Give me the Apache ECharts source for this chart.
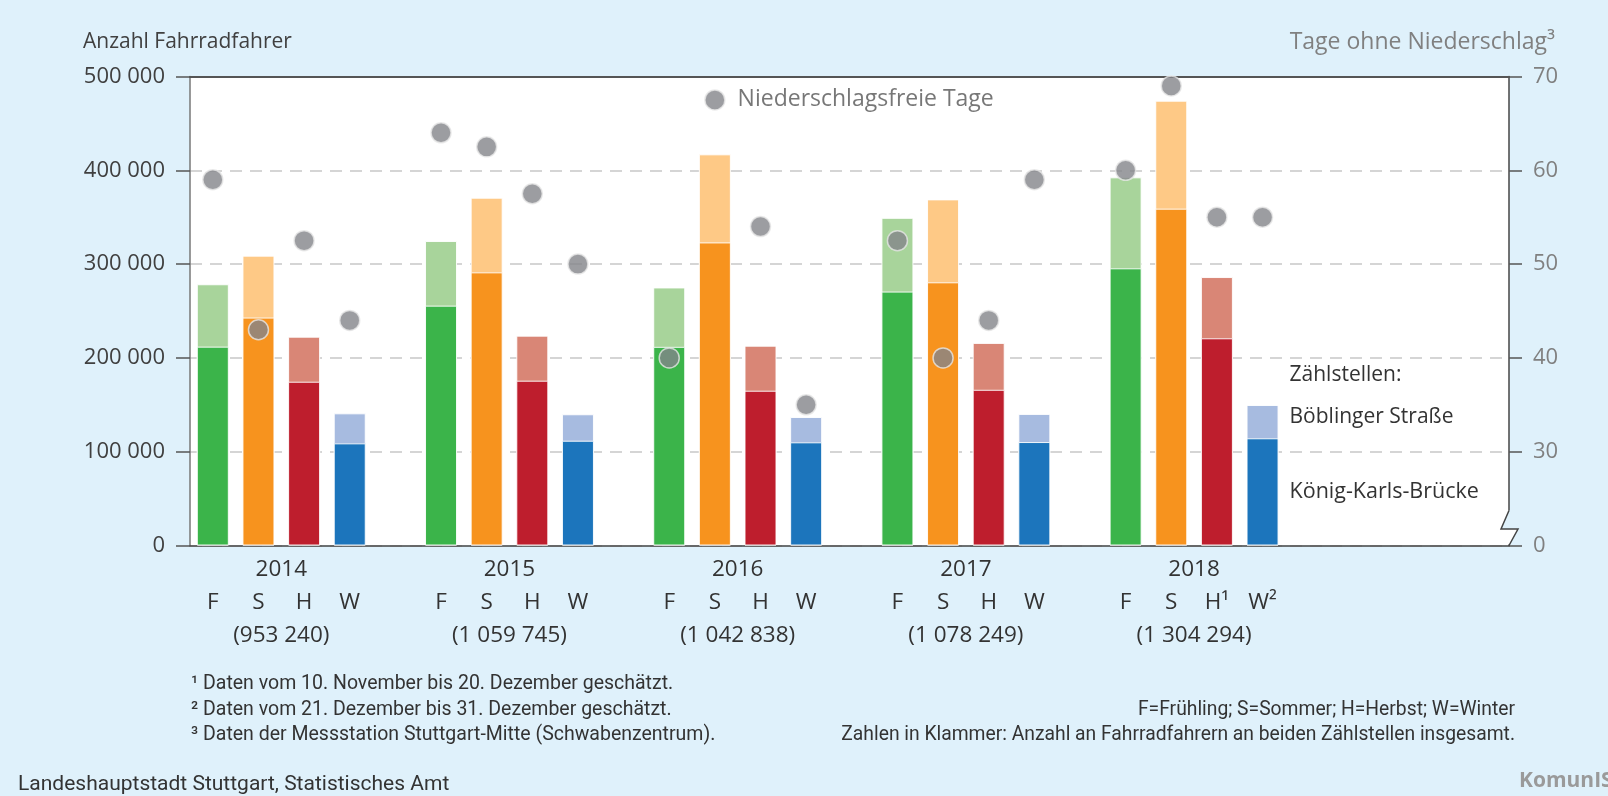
<!DOCTYPE html>
<html><head><meta charset="utf-8">
<script src="https://cdn.jsdelivr.net/npm/echarts@6/dist/echarts.min.js"></script>
<style>html,body{margin:0;padding:0;background:#dff1fb}#c{width:1608px;height:796px}</style>
</head><body><div id="c"></div>
<script>
// ---- data ----
const years = ['2014', '2015', '2016', '2017', '2018'];
const seasons = ['F', 'S', 'H', 'W'];
const seasons2018 = ['F', 'S', 'H¹', 'W²'];
const yearTotals = ['(953 240)', '(1 059 745)', '(1 042 838)', '(1 078 249)', '(1 304 294)'];
// König-Karls-Brücke (dark, lower part)
const koenigKarlsBruecke = [212000, 243000, 174600, 108900, 255700, 291200, 175700, 111700, 211800, 323100, 165000, 110000, 270700, 280600, 166000, 110300, 295500, 359100, 220900, 114300];
// Böblinger Straße (light, upper part)
const boeblingerStrasse = [66500, 66000, 48000, 32000, 68900, 79600, 48000, 28200, 63300, 93900, 48000, 27000, 78600, 88400, 50000, 30000, 97000, 115100, 65300, 35500];
// Niederschlagsfreie Tage
const dryDays = [59, 43, 52.5, 44, 64, 62.5, 57.5, 50, 40, 67.5, 54, 35, 52.5, 40, 44, 59, 60, 69, 55, 55];
const leftTicks = [0, 100000, 200000, 300000, 400000, 500000];
const rightTicks = [20, 30, 40, 50, 60, 70]; // 20 sits at the axis break, shown as "0"
const rightTickLabels = ['0', '30', '40', '50', '60', '70'];

// ---- styling ----
const FONT = "'Open Sans', sans-serif";
const FONT2 = "Roboto, 'Open Sans', sans-serif";
const BG = '#dff1fb';
const darkColors = ['#3bb44a', '#f7931e', '#be1e2d', '#1c75bc'];
const lightColors = ['#a8d49b', '#fec986', '#d98676', '#a7bbe0'];
const pos = i => Math.floor(i / 4) * 5 + (i % 4);
const X_MIN = -0.5, X_MAX = 28.4;

const lightData = koenigKarlsBruecke.map((v, i) => {
  const d = { value: [pos(i), v + boeblingerStrasse[i]], itemStyle: { color: lightColors[i % 4] } };
  if (i === 19) d.label = {
    show: true, position: ['100%', 0], offset: [11, -9], align: 'left', verticalAlign: 'middle',
    formatter: '{a|Zählstellen:}\n{a|Böblinger Straße}',
    rich: { a: { fontSize: 21, lineHeight: 42, color: '#333', fontFamily: FONT } }
  };
  return d;
});
const darkData = koenigKarlsBruecke.map((v, i) => {
  const d = { value: [pos(i), v], itemStyle: { color: darkColors[i % 4] } };
  if (i === 19) d.label = {
    show: true, position: 'right', distance: 11, formatter: 'König-Karls-Brücke',
    fontSize: 21.5, color: '#333', fontFamily: FONT
  };
  return d;
});
const dotData = dryDays.map((v, i) => {
  const d = { value: [pos(i), v] };
  if (i === 9) d.label = {
    show: true, position: 'right', distance: 12, formatter: 'Niederschlagsfreie Tage',
    fontSize: 23, color: '#555', fontFamily: FONT
  };
  return d;
});

function xLabel(v) {
  const r = Math.round(v * 2) / 2;
  if (Number.isInteger(r)) {
    const yi = Math.floor(r / 5), si = r % 5;
    if (r >= 0 && yi < years.length && si < 4) return '{e| }\n{s|' + (yi === 4 ? seasons2018 : seasons)[si] + '}';
    return '';
  }
  const k = (r - 1.5) / 5;
  if (Number.isInteger(k) && k >= 0 && k < years.length) return '{s|' + years[k] + '}\n{e| }\n{s|' + yearTotals[k] + '}';
  return '';
}
const fmtThousands = v => String(v).replace(/\B(?=(\d{3})+(?!\d))/g, ' ');

const txt = (x, y, text, opts) => ({
  type: 'text', x, y, silent: true,
  style: Object.assign({ text, fill: '#333', font: '21px ' + FONT, align: 'left', verticalAlign: 'middle' }, opts || {})
});

const option = {
  backgroundColor: BG,
  animation: false,
  grid: { left: 190, right: 99, top: 76.5, bottom: 250.5, show: true, backgroundColor: '#fff', borderWidth: 0 },
  xAxis: [{
    type: 'value', min: X_MIN, max: X_MAX, interval: 0.5, position: 'bottom',
    axisLine: { show: true, onZero: false, lineStyle: { color: '#444', width: 1.5 } },
    axisTick: { show: false }, splitLine: { show: false },
    axisLabel: {
      margin: 8, formatter: xLabel,
      rich: { s: { fontSize: 22.5, lineHeight: 33, color: '#333', fontFamily: FONT }, e: { fontSize: 22, lineHeight: 33 } }
    }
  }, {
    type: 'value', min: X_MIN, max: X_MAX, position: 'top',
    axisLine: { show: true, onZero: false, lineStyle: { color: '#555', width: 2 } },
    axisTick: { show: false }, axisLabel: { show: false }, splitLine: { show: false }
  }],
  yAxis: [{
    type: 'value', min: leftTicks[0], max: leftTicks[leftTicks.length - 1], interval: leftTicks[1] - leftTicks[0], position: 'left',
    axisLine: { show: true, onZero: false, lineStyle: { color: '#777', width: 1.5 } },
    axisTick: { show: true, length: 14, lineStyle: { color: '#555', width: 1.5 } },
    axisLabel: { margin: 25, fontSize: 22, color: '#404040', fontFamily: FONT, formatter: fmtThousands },
    splitLine: { show: true, lineStyle: { color: '#c8c8c8', width: 1.5, type: [12, 8] } }
  }, {
    type: 'value', min: rightTicks[0], max: rightTicks[rightTicks.length - 1], interval: rightTicks[1] - rightTicks[0], position: 'right',
    axisLine: { show: true, onZero: false, lineStyle: { color: '#444', width: 1.5 } },
    axisTick: { show: true, length: 13, lineStyle: { color: '#555', width: 1.5 } },
    axisLabel: { margin: 24, fontSize: 22, color: '#808080', fontFamily: FONT,
      formatter: v => rightTickLabels[rightTicks.indexOf(v)] },
    splitLine: { show: false }
  }],
  series: [{
    type: 'bar', name: 'Böblinger Straße', xAxisIndex: 0, yAxisIndex: 0, barWidth: 32, barGap: '-100%',
    itemStyle: { borderColor: 'rgba(255,255,255,0.9)', borderWidth: 1 }, data: lightData, silent: true
  }, {
    type: 'bar', name: 'König-Karls-Brücke', xAxisIndex: 0, yAxisIndex: 0, barWidth: 32, barGap: '-100%',
    itemStyle: { borderColor: 'rgba(255,255,255,0.9)', borderWidth: 1 }, data: darkData, silent: true
  }, {
    type: 'scatter', name: 'Niederschlagsfreie Tage', xAxisIndex: 0, yAxisIndex: 1, symbolSize: 20, z: 5,
    itemStyle: { color: '#838489', borderColor: '#e6e6e6', borderWidth: 1.5 }, data: dotData, silent: true
  }],
  graphic: [
    txt(83, 42, 'Anzahl Fahrradfahrer', { fill: '#404040' }),
    txt(1555, 42, 'Tage ohne Niederschlag³', { fill: '#808080', align: 'right', font: '23px ' + FONT }),
    txt(191, 684, '¹ Daten vom 10. November bis 20. Dezember geschätzt.', { font: '19.5px ' + FONT2 }),
    txt(191, 710, '² Daten vom 21. Dezember bis 31. Dezember geschätzt.', { font: '19.5px ' + FONT2 }),
    txt(191, 735, '³ Daten der Messstation Stuttgart-Mitte (Schwabenzentrum).', { font: '19.5px ' + FONT2 }),
    txt(1515, 710, 'F=Frühling; S=Sommer; H=Herbst; W=Winter', { font: '19.3px ' + FONT2, align: 'right' }),
    txt(1515, 735, 'Zahlen in Klammer: Anzahl an Fahrradfahrern an beiden Zählstellen insgesamt.', { font: '19.3px ' + FONT2, align: 'right' }),
    txt(18, 785, 'Landeshauptstadt Stuttgart, Statistisches Amt', { font: '21px ' + FONT2 }),
    txt(1519, 781, 'KomunIS', { font: 'bold 21px ' + FONT, fill: '#9a9a9a' })
  ]
};

const chart = echarts.init(document.getElementById('c'), null, { renderer: 'canvas' });
chart.setOption(option);

// axis break on the right axis (0 … 30)
const xR = chart.convertToPixel({ xAxisIndex: 0 }, X_MAX);
const yB = chart.convertToPixel({ yAxisIndex: 1 }, rightTicks[0]);
chart.setOption({
  graphic: option.graphic.concat([
    { type: 'rect', silent: true, z: 100, shape: { x: xR - 2, y: yB - 35, width: 2, height: 34 }, style: { fill: '#fff' } },
    { type: 'rect', silent: true, z: 100, shape: { x: xR, y: yB - 35, width: 3, height: 34 }, style: { fill: BG } },
    { type: 'polygon', silent: true, z: 101, shape: { points: [[xR, yB - 34.5], [xR - 8, yB - 16.5], [xR, yB - 16.5]] }, style: { fill: BG } },
    { type: 'polygon', silent: true, z: 101, shape: { points: [[xR, yB - 16.5], [xR + 9, yB - 16.5], [xR, yB - 0.8]] }, style: { fill: '#fff' } },
    { type: 'polyline', silent: true, z: 102, shape: { points: [[xR, yB - 35], [xR - 8, yB - 16.5], [xR + 9, yB - 16.5], [xR, yB]] }, style: { stroke: '#444', lineWidth: 1.5, fill: null } }
  ])
});
</script>
</body></html>
